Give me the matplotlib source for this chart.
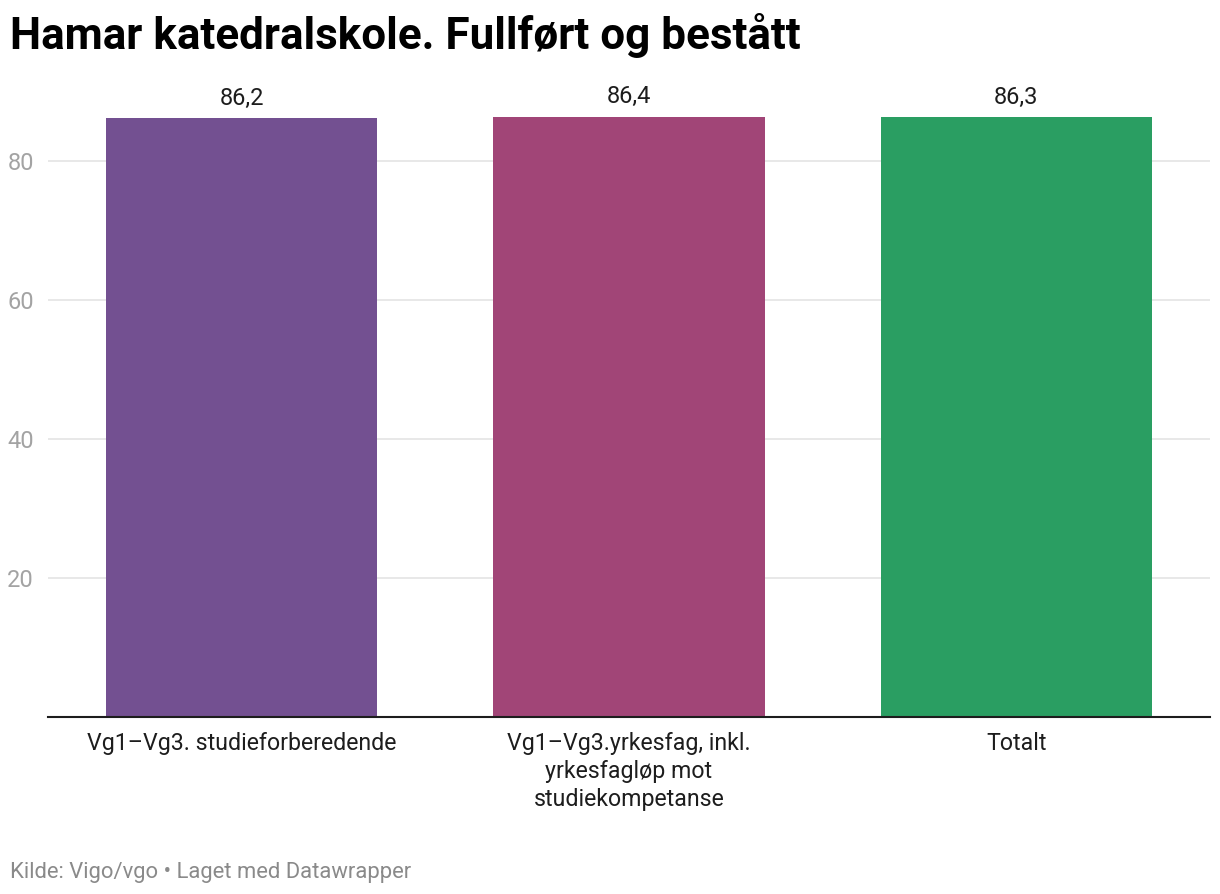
import numpy as np
import matplotlib
matplotlib.use("Agg")
from matplotlib import pyplot as plt

categories = ["Vg1–Vg3. studieforberedende",
              "Vg1–Vg3.yrkesfag, inkl.\nyrkesfagløp mot\nstudiekompetanse",
              "Totalt"]
values = [86.2, 86.4, 86.3]
value_labels = ["86,2", "86,4", "86,3"]
y_ticks = [20, 40, 60, 80]
colors = ["#735091", "#a14577", "#2a9e62"]

plt.rcParams['font.family'] = ['Roboto', 'DejaVu Sans']

fig = plt.figure(figsize=(12.2, 8.94), dpi=100)
ax = fig.add_axes([0.0393, 0.198, 0.9525, 0.684])

x = np.arange(len(categories))
bars = ax.bar(x, values, width=0.7, color=colors, zorder=2)

# verdiene over søylene
for xi, v, lab in zip(x, values, value_labels):
    ax.annotate(lab, (xi, v), xytext=(0, 6), textcoords="offset points",
                ha="center", va="bottom", fontsize=17, color="#1d1d1d")

ax.set_xlim(-0.5, 2.5)
ax.set_ylim(0, 88)
ax.set_yticks(y_ticks)
ax.set_yticklabels([str(t) for t in y_ticks], fontsize=17, color="#a3a3a3")
ax.grid(axis="y", color="#e4e4e4", linewidth=1.2, zorder=0)
ax.tick_params(axis="y", length=0, pad=10)

ax.set_xticks(x)
ax.set_xticklabels(categories, fontsize=16.7, color="#1d1d1d", linespacing=1.28)
ax.tick_params(axis="x", length=0, pad=11)

for side in ["top", "right", "left"]:
    ax.spines[side].set_visible(False)
ax.spines["bottom"].set_color("#1d1d1d")
ax.spines["bottom"].set_linewidth(1.5)
ax.spines["bottom"].set_zorder(3)

fig.text(0.008, 0.945, "Hamar katedralskole. Fullført og bestått",
         fontsize=31.7, fontweight="bold", color="#000000", ha="left", va="baseline")
fig.text(0.008, 0.018, "Kilde: Vigo/vgo • Laget med Datawrapper",
         fontsize=15.8, color="#8a8a8a", ha="left", va="baseline")

fig.savefig("out.png", dpi=100, facecolor="white")
